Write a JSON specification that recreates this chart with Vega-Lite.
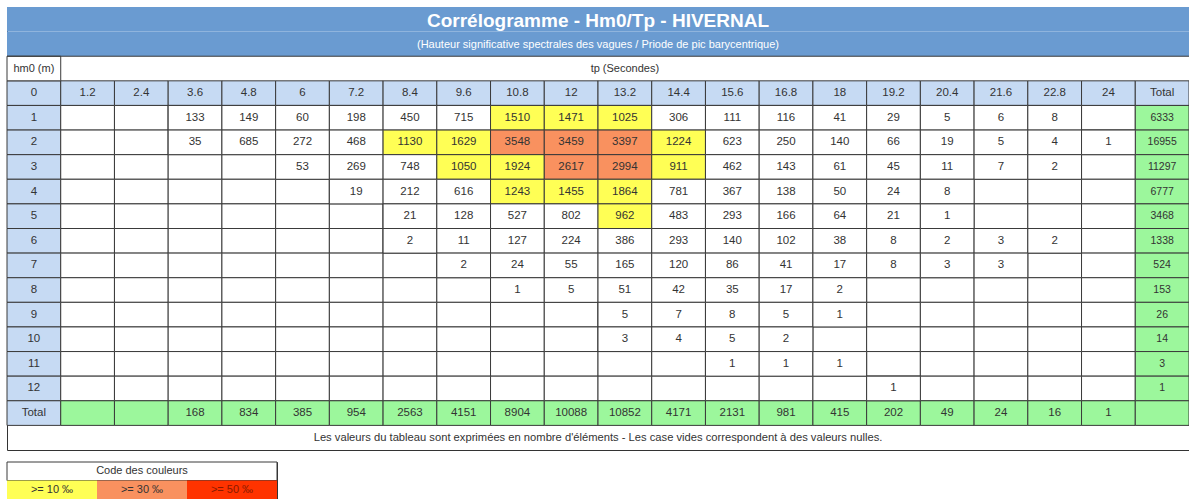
{
  "$schema": "https://vega.github.io/schema/vega-lite/v6.json",
  "padding": {"left": 6, "top": 6, "right": 0, "bottom": 0},
  "spacing": 10,
  "config": {
    "view": {"stroke": "#333333", "strokeWidth": 1},
    "axis": {"disable": true},
    "scale": {"bandPaddingInner": 0, "bandPaddingOuter": 0},
    "text": {"font": "Liberation Sans, Arial, sans-serif", "fontSize": 11.5, "fill": "#333333"}
  },
  "datasets": {
    "grid": [
      {"r": "0", "c": ["hm0","1.2","2.4","3.6","4.8","6","7.2","8.4","9.6","10.8","12","13.2","14.4","15.6","16.8","18","19.2","20.4","21.6","22.8","24","Total"]},
      {"r": "1", "c": ["hm0","1.2","2.4","3.6","4.8","6","7.2","8.4","9.6","10.8","12","13.2","14.4","15.6","16.8","18","19.2","20.4","21.6","22.8","24","Total"]},
      {"r": "2", "c": ["hm0","1.2","2.4","3.6","4.8","6","7.2","8.4","9.6","10.8","12","13.2","14.4","15.6","16.8","18","19.2","20.4","21.6","22.8","24","Total"]},
      {"r": "3", "c": ["hm0","1.2","2.4","3.6","4.8","6","7.2","8.4","9.6","10.8","12","13.2","14.4","15.6","16.8","18","19.2","20.4","21.6","22.8","24","Total"]},
      {"r": "4", "c": ["hm0","1.2","2.4","3.6","4.8","6","7.2","8.4","9.6","10.8","12","13.2","14.4","15.6","16.8","18","19.2","20.4","21.6","22.8","24","Total"]},
      {"r": "5", "c": ["hm0","1.2","2.4","3.6","4.8","6","7.2","8.4","9.6","10.8","12","13.2","14.4","15.6","16.8","18","19.2","20.4","21.6","22.8","24","Total"]},
      {"r": "6", "c": ["hm0","1.2","2.4","3.6","4.8","6","7.2","8.4","9.6","10.8","12","13.2","14.4","15.6","16.8","18","19.2","20.4","21.6","22.8","24","Total"]},
      {"r": "7", "c": ["hm0","1.2","2.4","3.6","4.8","6","7.2","8.4","9.6","10.8","12","13.2","14.4","15.6","16.8","18","19.2","20.4","21.6","22.8","24","Total"]},
      {"r": "8", "c": ["hm0","1.2","2.4","3.6","4.8","6","7.2","8.4","9.6","10.8","12","13.2","14.4","15.6","16.8","18","19.2","20.4","21.6","22.8","24","Total"]},
      {"r": "9", "c": ["hm0","1.2","2.4","3.6","4.8","6","7.2","8.4","9.6","10.8","12","13.2","14.4","15.6","16.8","18","19.2","20.4","21.6","22.8","24","Total"]},
      {"r": "10", "c": ["hm0","1.2","2.4","3.6","4.8","6","7.2","8.4","9.6","10.8","12","13.2","14.4","15.6","16.8","18","19.2","20.4","21.6","22.8","24","Total"]},
      {"r": "11", "c": ["hm0","1.2","2.4","3.6","4.8","6","7.2","8.4","9.6","10.8","12","13.2","14.4","15.6","16.8","18","19.2","20.4","21.6","22.8","24","Total"]},
      {"r": "12", "c": ["hm0","1.2","2.4","3.6","4.8","6","7.2","8.4","9.6","10.8","12","13.2","14.4","15.6","16.8","18","19.2","20.4","21.6","22.8","24","Total"]},
      {"r": "Total", "c": ["hm0","1.2","2.4","3.6","4.8","6","7.2","8.4","9.6","10.8","12","13.2","14.4","15.6","16.8","18","19.2","20.4","21.6","22.8","24","Total"]}
    ],
    "cells": [
      {"r":"1","c":"3.6","v":133},{"r":"1","c":"4.8","v":149},{"r":"1","c":"6","v":60},{"r":"1","c":"7.2","v":198},{"r":"1","c":"8.4","v":450},{"r":"1","c":"9.6","v":715},{"r":"1","c":"10.8","v":1510},{"r":"1","c":"12","v":1471},{"r":"1","c":"13.2","v":1025},{"r":"1","c":"14.4","v":306},{"r":"1","c":"15.6","v":111},{"r":"1","c":"16.8","v":116},{"r":"1","c":"18","v":41},{"r":"1","c":"19.2","v":29},{"r":"1","c":"20.4","v":5},{"r":"1","c":"21.6","v":6},{"r":"1","c":"22.8","v":8},{"r":"1","c":"Total","v":6333},
      {"r":"2","c":"3.6","v":35},{"r":"2","c":"4.8","v":685},{"r":"2","c":"6","v":272},{"r":"2","c":"7.2","v":468},{"r":"2","c":"8.4","v":1130},{"r":"2","c":"9.6","v":1629},{"r":"2","c":"10.8","v":3548},{"r":"2","c":"12","v":3459},{"r":"2","c":"13.2","v":3397},{"r":"2","c":"14.4","v":1224},{"r":"2","c":"15.6","v":623},{"r":"2","c":"16.8","v":250},{"r":"2","c":"18","v":140},{"r":"2","c":"19.2","v":66},{"r":"2","c":"20.4","v":19},{"r":"2","c":"21.6","v":5},{"r":"2","c":"22.8","v":4},{"r":"2","c":"24","v":1},{"r":"2","c":"Total","v":16955},
      {"r":"3","c":"6","v":53},{"r":"3","c":"7.2","v":269},{"r":"3","c":"8.4","v":748},{"r":"3","c":"9.6","v":1050},{"r":"3","c":"10.8","v":1924},{"r":"3","c":"12","v":2617},{"r":"3","c":"13.2","v":2994},{"r":"3","c":"14.4","v":911},{"r":"3","c":"15.6","v":462},{"r":"3","c":"16.8","v":143},{"r":"3","c":"18","v":61},{"r":"3","c":"19.2","v":45},{"r":"3","c":"20.4","v":11},{"r":"3","c":"21.6","v":7},{"r":"3","c":"22.8","v":2},{"r":"3","c":"Total","v":11297},
      {"r":"4","c":"7.2","v":19},{"r":"4","c":"8.4","v":212},{"r":"4","c":"9.6","v":616},{"r":"4","c":"10.8","v":1243},{"r":"4","c":"12","v":1455},{"r":"4","c":"13.2","v":1864},{"r":"4","c":"14.4","v":781},{"r":"4","c":"15.6","v":367},{"r":"4","c":"16.8","v":138},{"r":"4","c":"18","v":50},{"r":"4","c":"19.2","v":24},{"r":"4","c":"20.4","v":8},{"r":"4","c":"Total","v":6777},
      {"r":"5","c":"8.4","v":21},{"r":"5","c":"9.6","v":128},{"r":"5","c":"10.8","v":527},{"r":"5","c":"12","v":802},{"r":"5","c":"13.2","v":962},{"r":"5","c":"14.4","v":483},{"r":"5","c":"15.6","v":293},{"r":"5","c":"16.8","v":166},{"r":"5","c":"18","v":64},{"r":"5","c":"19.2","v":21},{"r":"5","c":"20.4","v":1},{"r":"5","c":"Total","v":3468},
      {"r":"6","c":"8.4","v":2},{"r":"6","c":"9.6","v":11},{"r":"6","c":"10.8","v":127},{"r":"6","c":"12","v":224},{"r":"6","c":"13.2","v":386},{"r":"6","c":"14.4","v":293},{"r":"6","c":"15.6","v":140},{"r":"6","c":"16.8","v":102},{"r":"6","c":"18","v":38},{"r":"6","c":"19.2","v":8},{"r":"6","c":"20.4","v":2},{"r":"6","c":"21.6","v":3},{"r":"6","c":"22.8","v":2},{"r":"6","c":"Total","v":1338},
      {"r":"7","c":"9.6","v":2},{"r":"7","c":"10.8","v":24},{"r":"7","c":"12","v":55},{"r":"7","c":"13.2","v":165},{"r":"7","c":"14.4","v":120},{"r":"7","c":"15.6","v":86},{"r":"7","c":"16.8","v":41},{"r":"7","c":"18","v":17},{"r":"7","c":"19.2","v":8},{"r":"7","c":"20.4","v":3},{"r":"7","c":"21.6","v":3},{"r":"7","c":"Total","v":524},
      {"r":"8","c":"10.8","v":1},{"r":"8","c":"12","v":5},{"r":"8","c":"13.2","v":51},{"r":"8","c":"14.4","v":42},{"r":"8","c":"15.6","v":35},{"r":"8","c":"16.8","v":17},{"r":"8","c":"18","v":2},{"r":"8","c":"Total","v":153},
      {"r":"9","c":"13.2","v":5},{"r":"9","c":"14.4","v":7},{"r":"9","c":"15.6","v":8},{"r":"9","c":"16.8","v":5},{"r":"9","c":"18","v":1},{"r":"9","c":"Total","v":26},
      {"r":"10","c":"13.2","v":3},{"r":"10","c":"14.4","v":4},{"r":"10","c":"15.6","v":5},{"r":"10","c":"16.8","v":2},{"r":"10","c":"Total","v":14},
      {"r":"11","c":"15.6","v":1},{"r":"11","c":"16.8","v":1},{"r":"11","c":"18","v":1},{"r":"11","c":"Total","v":3},
      {"r":"12","c":"19.2","v":1},{"r":"12","c":"Total","v":1},
      {"r":"Total","c":"3.6","v":168},{"r":"Total","c":"4.8","v":834},{"r":"Total","c":"6","v":385},{"r":"Total","c":"7.2","v":954},{"r":"Total","c":"8.4","v":2563},{"r":"Total","c":"9.6","v":4151},{"r":"Total","c":"10.8","v":8904},{"r":"Total","c":"12","v":10088},{"r":"Total","c":"13.2","v":10852},{"r":"Total","c":"14.4","v":4171},{"r":"Total","c":"15.6","v":2131},{"r":"Total","c":"16.8","v":981},{"r":"Total","c":"18","v":415},{"r":"Total","c":"19.2","v":202},{"r":"Total","c":"20.4","v":49},{"r":"Total","c":"21.6","v":24},{"r":"Total","c":"22.8","v":16},{"r":"Total","c":"24","v":1}
    ]
  },
  "vconcat": [
    {
      "width": 1182,
      "height": 443,
      "layer": [
        {
          "data": {"values": [{"r": "t1"}, {"r": "t2"}]},
          "mark": {"type": "rect", "fill": "#6a9bd1"},
          "encoding": {
            "y": {"field": "r", "type": "nominal", "scale": {"type": "band", "domain": ["t1","t2","hdr","0","1","2","3","4","5","6","7","8","9","10","11","12","Total","foot"]}}
          }
        },
        {
          "data": {"name": "grid"},
          "transform": [{"flatten": ["c"]}],
          "mark": {"type": "rect", "stroke": "#3a3a3a", "strokeWidth": 1},
          "encoding": {
            "x": {"field": "c", "type": "nominal", "scale": {"type": "band", "domain": ["hm0","1.2","2.4","3.6","4.8","6","7.2","8.4","9.6","10.8","12","13.2","14.4","15.6","16.8","18","19.2","20.4","21.6","22.8","24","Total"]}},
            "y": {"field": "r", "type": "nominal", "scale": {"type": "band", "domain": ["t1","t2","hdr","0","1","2","3","4","5","6","7","8","9","10","11","12","Total","foot"]}},
            "fill": {
              "condition": [
                {"test": "datum.r === '0' || datum.c === 'hm0'", "value": "#c6daf3"},
                {"test": "datum.r === 'Total' || datum.c === 'Total'", "value": "#9cf79c"}
              ],
              "value": "#ffffff"
            }
          }
        },
        {
          "data": {"name": "cells"},
          "transform": [{"filter": "datum.r !== 'Total' && datum.c !== 'Total'"}],
          "mark": {"type": "rect", "stroke": "#3a3a3a", "strokeWidth": 1},
          "encoding": {
            "x": {"field": "c", "type": "nominal", "scale": {"type": "band", "domain": ["hm0","1.2","2.4","3.6","4.8","6","7.2","8.4","9.6","10.8","12","13.2","14.4","15.6","16.8","18","19.2","20.4","21.6","22.8","24","Total"]}},
            "y": {"field": "r", "type": "nominal", "scale": {"type": "band", "domain": ["t1","t2","hdr","0","1","2","3","4","5","6","7","8","9","10","11","12","Total","foot"]}},
            "fill": {"field": "v", "type": "quantitative", "legend": null, "scale": {"type": "threshold", "domain": [850, 2500, 5000], "range": ["#ffffff", "#ffff55", "#f9915f", "#ff3300"]}}
          }
        },
        {
          "data": {"values": [{"r": "hdr", "c": "hm0"}]},
          "mark": {"type": "rect", "fill": "#ffffff", "stroke": "#3a3a3a", "strokeWidth": 1},
          "encoding": {
            "x": {"field": "c", "type": "nominal", "scale": {"type": "band", "domain": ["hm0","1.2","2.4","3.6","4.8","6","7.2","8.4","9.6","10.8","12","13.2","14.4","15.6","16.8","18","19.2","20.4","21.6","22.8","24","Total"]}},
            "y": {"field": "r", "type": "nominal", "scale": {"type": "band", "domain": ["t1","t2","hdr","0","1","2","3","4","5","6","7","8","9","10","11","12","Total","foot"]}}
          }
        },
        {
          "data": {"values": [{"r": "hdr"}]},
          "mark": {"type": "rule", "color": "#3a3a3a", "strokeWidth": 1},
          "encoding": {
            "y": {"field": "r", "type": "nominal", "bandPosition": 0, "scale": {"type": "band", "domain": ["t1","t2","hdr","0","1","2","3","4","5","6","7","8","9","10","11","12","Total","foot"]}}
          }
        },
        {
          "data": {"values": [{"r": "t1", "t": "Corrélogramme - Hm0/Tp - HIVERNAL"}]},
          "mark": {"type": "text", "fontSize": 19, "fontWeight": "bold", "fill": "#ffffff", "dy": 2},
          "encoding": {
            "y": {"field": "r", "type": "nominal", "scale": {"type": "band", "domain": ["t1","t2","hdr","0","1","2","3","4","5","6","7","8","9","10","11","12","Total","foot"]}},
            "text": {"field": "t"}
          }
        },
        {
          "data": {"values": [{"r": "t2", "t": "(Hauteur significative spectrales des vagues / Priode de pic barycentrique)"}]},
          "mark": {"type": "text", "fontSize": 11, "fill": "#ffffff", "dy": 1},
          "encoding": {
            "y": {"field": "r", "type": "nominal", "scale": {"type": "band", "domain": ["t1","t2","hdr","0","1","2","3","4","5","6","7","8","9","10","11","12","Total","foot"]}},
            "text": {"field": "t"}
          }
        },
        {
          "data": {"values": [{"r": "hdr", "c": "hm0", "t": "hm0 (m)"}, {"r": "hdr", "c": "13.2", "t": "tp (Secondes)"}]},
          "mark": {"type": "text", "fontSize": 11},
          "encoding": {
            "x": {"field": "c", "type": "nominal", "scale": {"type": "band", "domain": ["hm0","1.2","2.4","3.6","4.8","6","7.2","8.4","9.6","10.8","12","13.2","14.4","15.6","16.8","18","19.2","20.4","21.6","22.8","24","Total"]}},
            "y": {"field": "r", "type": "nominal", "scale": {"type": "band", "domain": ["t1","t2","hdr","0","1","2","3","4","5","6","7","8","9","10","11","12","Total","foot"]}},
            "text": {"field": "t"}
          }
        },
        {
          "data": {"name": "grid"},
          "transform": [{"flatten": ["c"]}, {"filter": "datum.r === '0' && datum.c !== 'hm0'"}],
          "mark": {"type": "text"},
          "encoding": {
            "x": {"field": "c", "type": "nominal", "scale": {"type": "band", "domain": ["hm0","1.2","2.4","3.6","4.8","6","7.2","8.4","9.6","10.8","12","13.2","14.4","15.6","16.8","18","19.2","20.4","21.6","22.8","24","Total"]}},
            "y": {"field": "r", "type": "nominal", "scale": {"type": "band", "domain": ["t1","t2","hdr","0","1","2","3","4","5","6","7","8","9","10","11","12","Total","foot"]}},
            "text": {"field": "c"}
          }
        },
        {
          "data": {"name": "grid"},
          "transform": [{"flatten": ["c"]}, {"filter": "datum.c === 'hm0'"}],
          "mark": {"type": "text"},
          "encoding": {
            "x": {"field": "c", "type": "nominal", "scale": {"type": "band", "domain": ["hm0","1.2","2.4","3.6","4.8","6","7.2","8.4","9.6","10.8","12","13.2","14.4","15.6","16.8","18","19.2","20.4","21.6","22.8","24","Total"]}},
            "y": {"field": "r", "type": "nominal", "scale": {"type": "band", "domain": ["t1","t2","hdr","0","1","2","3","4","5","6","7","8","9","10","11","12","Total","foot"]}},
            "text": {"field": "r"}
          }
        },
        {
          "data": {"name": "cells"},
          "mark": {"type": "text"},
          "encoding": {
            "x": {"field": "c", "type": "nominal", "scale": {"type": "band", "domain": ["hm0","1.2","2.4","3.6","4.8","6","7.2","8.4","9.6","10.8","12","13.2","14.4","15.6","16.8","18","19.2","20.4","21.6","22.8","24","Total"]}},
            "y": {"field": "r", "type": "nominal", "scale": {"type": "band", "domain": ["t1","t2","hdr","0","1","2","3","4","5","6","7","8","9","10","11","12","Total","foot"]}},
            "text": {"field": "v", "type": "nominal"},
            "size": {"condition": {"test": "datum.c === 'Total'", "value": 10.5}, "value": 11.5}
          }
        },
        {
          "data": {"values": [{"r": "foot", "t": "Les valeurs du tableau sont exprimées en nombre d'éléments - Les case vides correspondent à des valeurs nulles."}]},
          "mark": {"type": "text", "fontSize": 11.2},
          "encoding": {
            "y": {"field": "r", "type": "nominal", "scale": {"type": "band", "domain": ["t1","t2","hdr","0","1","2","3","4","5","6","7","8","9","10","11","12","Total","foot"]}},
            "text": {"field": "t"}
          }
        }
      ]
    },
    {
      "width": 270,
      "height": 37,
      "layer": [
        {
          "data": {"values": [{"r": "h", "t": "Code des couleurs"}]},
          "mark": {"type": "rect", "fill": "#ffffff", "stroke": "#3a3a3a"},
          "encoding": {
            "y": {"field": "r", "type": "nominal", "scale": {"type": "band", "domain": ["h", "c"]}}
          }
        },
        {
          "data": {"values": [{"r": "h", "t": "Code des couleurs"}]},
          "mark": {"type": "text", "fontSize": 11},
          "encoding": {
            "y": {"field": "r", "type": "nominal", "scale": {"type": "band", "domain": ["h", "c"]}},
            "text": {"field": "t"}
          }
        },
        {
          "data": {"values": [{"r": "c", "s": ">= 10 ‰"}, {"r": "c", "s": ">= 30 ‰"}, {"r": "c", "s": ">= 50 ‰"}]},
          "mark": {"type": "rect"},
          "encoding": {
            "x": {"field": "s", "type": "nominal", "scale": {"type": "band", "domain": [">= 10 ‰", ">= 30 ‰", ">= 50 ‰"]}},
            "y": {"field": "r", "type": "nominal", "scale": {"type": "band", "domain": ["h", "c"]}},
            "fill": {"field": "s", "type": "nominal", "legend": null, "scale": {"domain": [">= 10 ‰", ">= 30 ‰", ">= 50 ‰"], "range": ["#ffff55", "#f9915f", "#ff3300"]}}
          }
        },
        {
          "data": {"values": [{"r": "c", "s": ">= 10 ‰"}, {"r": "c", "s": ">= 30 ‰"}, {"r": "c", "s": ">= 50 ‰"}]},
          "mark": {"type": "text", "fontSize": 11},
          "encoding": {
            "x": {"field": "s", "type": "nominal", "scale": {"type": "band", "domain": [">= 10 ‰", ">= 30 ‰", ">= 50 ‰"]}},
            "y": {"field": "r", "type": "nominal", "scale": {"type": "band", "domain": ["h", "c"]}},
            "text": {"field": "s"},
            "fill": {"condition": {"test": "datum.s === '>= 50 ‰'", "value": "#8a1a00"}, "value": "#333333"}
          }
        }
      ]
    }
  ]
}
